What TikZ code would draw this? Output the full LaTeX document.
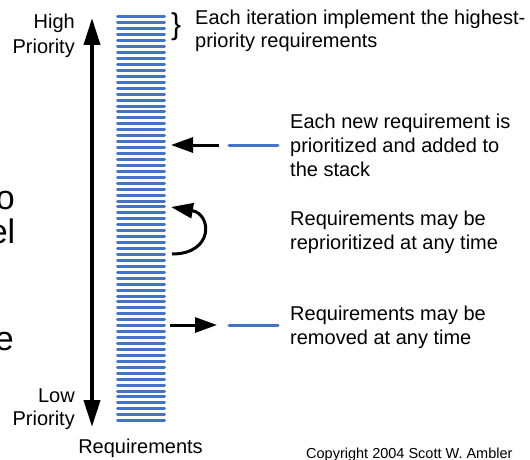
\documentclass[tikz,border=0pt]{standalone}
\usepackage{fontspec}
\setmainfont{Liberation Sans}
\usetikzlibrary{arrows.meta}
\definecolor{reqblue}{RGB}{68,114,196}
\begin{document}
\begin{tikzpicture}[x=1pt,y=-1pt,
  lbl/.style={font=\fontsize{20}{24}\selectfont, inner sep=0pt},
  biglbl/.style={font=\fontsize{34}{40}\selectfont, inner sep=0pt},
  small/.style={font=\fontsize{14.5}{17}\selectfont, inner sep=0pt},
  reqline/.style={draw=reqblue, line width=3pt, line cap=round},
  mainarrow/.style={line width=4pt, {Triangle[length=27pt,width=16pt]}-{Triangle[length=27pt,width=16pt]}},
  pointer/.style={line width=3pt, -{Triangle[length=22pt,width=15pt]}},
]
\useasboundingbox (0,0) rectangle (530,460);
\fill[white] (0,0) rectangle (530,460);

% the requirements stack
\foreach \i in {0,...,68} {
  \draw[reqline] (117.5,{17+\i*5.937}) -- (164.5,{17+\i*5.937});
}

% priority axis
\coordinate (hi) at (92,18);
\coordinate (lo) at (92,427);
\draw[mainarrow] (lo) -- (hi);
\node[lbl, anchor=base east] (high1) at (75,29) {High};
\node[lbl, anchor=base east] (high2) at (75,54) {Priority};
\node[lbl, anchor=base east] (low1) at (75,402) {Low};
\node[lbl, anchor=base east] (low2) at (75,425) {Priority};
\node[lbl, anchor=base] (reqs) at (140.5,453) {Requirements};

% text running off the left edge
\node[biglbl, anchor=base east] (cut1) at (15,209) {o};
\node[biglbl, anchor=base east] (cut2) at (15.5,243) {el};
\node[biglbl, anchor=base east] (cut3) at (14,350) {e};

% top of the stack
\node[font=\fontsize{30}{30}\selectfont, inner sep=0pt, anchor=base west] (brace) at (171,35) {\}};
\node[lbl, anchor=base west] (iter1) at (195,25) {Each iteration implement the highest-};
\node[lbl, anchor=base west] (iter2) at (195,48) {priority requirements};

% new requirement
\coordinate (newtail) at (219,145);
\coordinate (newtip) at (171,145);
\draw[pointer] (newtail) -- (newtip);
\coordinate (newa) at (229,145);
\coordinate (newb) at (278,145);
\draw[reqline] (newa) -- (newb);
\node[lbl, anchor=base west] (add1) at (290,128) {Each new requirement is};
\node[lbl, anchor=base west] (add2) at (290,152) {prioritized and added to};
\node[lbl, anchor=base west] (add3) at (290,176) {the stack};

% reprioritization
\coordinate (rpstart) at (172,254);
\coordinate (rpend) at (171,207);
\draw[pointer] (rpstart) .. controls (214,254) and (212,214) .. (rpend);
\node[lbl, anchor=base west] (rp1) at (290,225) {Requirements may be};
\node[lbl, anchor=base west] (rp2) at (290,249) {reprioritized at any time};

% removal
\coordinate (rmtail) at (170,325);
\coordinate (rmtip) at (217,325);
\draw[pointer] (rmtail) -- (rmtip);
\coordinate (rma) at (229,325);
\coordinate (rmb) at (278,325);
\draw[reqline] (rma) -- (rmb);
\node[lbl, anchor=base west] (rm1) at (290,320) {Requirements may be};
\node[lbl, anchor=base west] (rm2) at (290,344) {removed at any time};

\node[small, anchor=base west] (copy) at (306,458) {Copyright 2004 Scott W. Ambler};
\end{tikzpicture}
\end{document}
